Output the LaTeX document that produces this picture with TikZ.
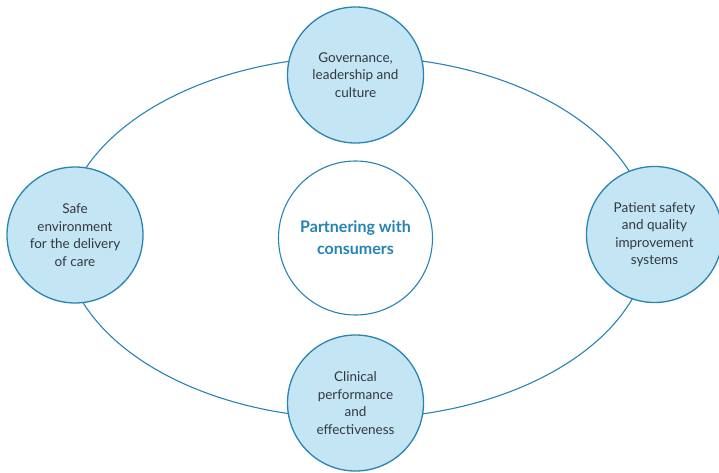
\documentclass[tikz,border=0pt]{standalone}
\usepackage{fontspec}
\setmainfont{Lato}
\definecolor{ringblue}{HTML}{2A84B3}
\definecolor{fillblue}{HTML}{C3E5F4}
\definecolor{titleblue}{HTML}{2383B5}
\definecolor{textgrey}{HTML}{333840}
\begin{document}
\begin{tikzpicture}[x=1pt,y=-1pt,
  pillar/.style={circle,draw=ringblue,line width=1.3pt,fill=fillblue,minimum size=136pt,inner sep=0pt,
    align=center,text=textgrey,font=\fontsize{13.5}{17.5}\selectfont},
  hub/.style={circle,draw=ringblue,line width=1.1pt,fill=white,minimum size=154pt,inner sep=0pt,
    align=center,text=titleblue,font=\fontsize{16}{22}\selectfont\bfseries},
  ring/.style={draw=ringblue,line width=1.1pt}]
\useasboundingbox (0,0) rectangle (719,473);
\coordinate (o) at (356.5,237.5);
\draw[ring] (o) ellipse [x radius=293, y radius=181];
\node[hub] (hub) at (355.5,238) {Partnering with\\consumers};
\node[pillar] (gov) at (355.5,75) {Governance,\\leadership and\\culture};
\node[pillar] (safe) at (75,235) {Safe\\environment\\for the delivery\\of care};
\node[pillar] (pat) at (654.5,234.5) {Patient safety\\and quality\\improvement\\systems};
\node[pillar] (clin) at (355.5,403) {Clinical\\performance\\and\\effectiveness};
\end{tikzpicture}
\end{document}
